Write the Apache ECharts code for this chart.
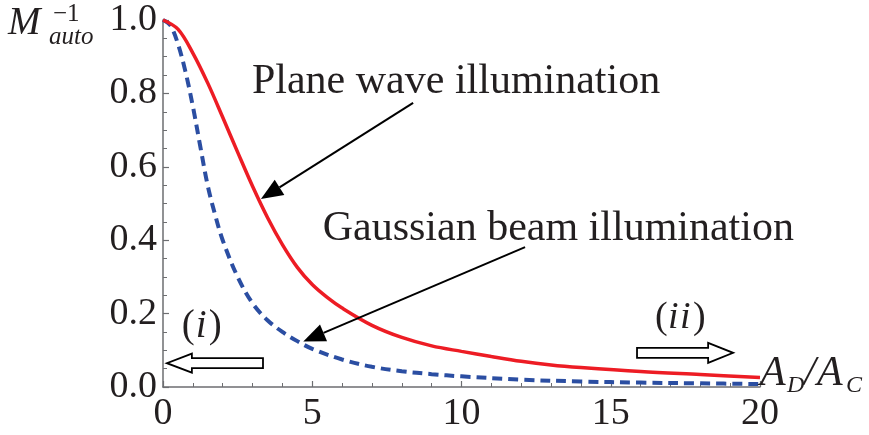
<!DOCTYPE html>
<html>
<head>
<meta charset="utf-8">
<script src="https://cdn.jsdelivr.net/npm/echarts@6/dist/echarts.min.js"></script>
<style>
html,body{margin:0;padding:0;background:#fff;}
#c{width:869px;height:435px;}
</style>
</head>
<body>
<div id="c"></div>
<script>
// ---- data ----
var xTicks = [0, 5, 10, 15, 20];
var yTicks = [0.0, 0.2, 0.4, 0.6, 0.8, 1.0];
var planeX = [0, 0.5, 1, 1.5, 2, 2.5, 3, 3.5, 4, 4.5, 5, 5.5, 6, 7, 8, 9, 10, 11, 12, 13, 14, 16, 18, 20];
var planeY = [1.0, 0.975, 0.91, 0.828, 0.735, 0.64, 0.547, 0.462, 0.388, 0.326, 0.279, 0.244, 0.215, 0.168, 0.135, 0.112, 0.097, 0.083, 0.070, 0.060, 0.053, 0.042, 0.034, 0.026];
var gaussX = [0, 0.25, 0.5, 0.75, 1, 1.25, 1.5, 1.75, 2, 2.5, 3, 3.5, 4, 4.5, 5, 6, 7, 8, 9, 10, 12, 14, 16, 18, 20];
var gaussY = [1.0, 0.985, 0.935, 0.86, 0.765, 0.655, 0.548, 0.468, 0.40, 0.300, 0.228, 0.182, 0.150, 0.125, 0.104, 0.075, 0.055, 0.043, 0.035, 0.029, 0.020, 0.015, 0.012, 0.010, 0.008];
var planeLabel = "Plane wave illumination";
var gaussLabel = "Gaussian beam illumination";

function pairs(xs, ys){ return xs.map(function(x,i){ return [x, ys[i]]; }); }

var FONT = '"Liberation Serif","DejaVu Serif",serif';
var TXT = '#231f20';
var AX = '#6d6e71';

var chart = echarts.init(document.getElementById('c'), null, {renderer:'canvas'});
chart.setOption({
  animation:false,
  backgroundColor:'#fff',
  grid:{left:163, top:20, right:109, bottom:48, containLabel:false},
  xAxis:{
    type:'value', min:xTicks[0], max:xTicks[xTicks.length-1], interval:5,
    axisLine:{show:true, onZero:false, lineStyle:{color:AX, width:1.5}},
    axisTick:{show:true, inside:true, length:6, lineStyle:{color:AX, width:1.2}},
    minorTick:{show:true, splitNumber:5, length:4, lineStyle:{color:AX, width:1}},
    splitLine:{show:false},
    axisLabel:{fontFamily:FONT, fontSize:38, color:TXT, margin:8}
  },
  yAxis:{
    type:'value', min:yTicks[0], max:yTicks[yTicks.length-1], interval:0.2,
    axisLine:{show:true, lineStyle:{color:AX, width:1.5}},
    axisTick:{show:true, inside:true, length:6, lineStyle:{color:AX, width:1.2}},
    minorTick:{show:true, splitNumber:4, length:4, lineStyle:{color:AX, width:1}},
    splitLine:{show:false},
    axisLabel:{fontFamily:FONT, fontSize:38, color:TXT, margin:6, formatter:function(v){return v.toFixed(1);}}
  },
  series:[
    {type:'line', name:'plane', data:pairs(planeX, planeY), smooth:0.35, showSymbol:false, clip:false,
     lineStyle:{color:'#ed1c24', width:3.5}, z:3},
    {type:'line', name:'gauss', data:pairs(gaussX, gaussY), smooth:0.35, showSymbol:false, clip:false,
     lineStyle:{color:'#2b4ea2', width:4, type:[10,6]}, z:2}
  ]
});

function P(x,y){ return chart.convertToPixel({gridIndex:0}, [x,y]); }

function arrowLine(a, b, col, headLen, headW){
  var dx=b[0]-a[0], dy=b[1]-a[1], L=Math.sqrt(dx*dx+dy*dy), ux=dx/L, uy=dy/L;
  var bx=b[0]-ux*headLen, by=b[1]-uy*headLen;
  return [
    {type:'line', shape:{x1:a[0], y1:a[1], x2:bx, y2:by}, style:{stroke:col, lineWidth:2}, z:10},
    {type:'polygon', shape:{points:[[b[0],b[1]],[bx-uy*headW, by+ux*headW],[bx+uy*headW, by-ux*headW]]}, style:{fill:'#000'}, z:10}
  ];
}
function hollowArrow(tail, tip, headLen, headHalf, bodyHalf){
  var dir = tip[0] > tail[0] ? 1 : -1;
  var y = tip[1];
  var hb = tip[0] - dir*headLen;
  return {type:'polygon', shape:{points:[
      [tail[0], y-bodyHalf],[hb, y-bodyHalf],[hb, y-headHalf],[tip[0], y],
      [hb, y+headHalf],[hb, y+bodyHalf],[tail[0], y+bodyHalf]]},
    style:{fill:'#fff', stroke:'#000', lineWidth:1.8}, z:10};
}
function txt(x, y, s, font){
  return {type:'text', x:x, y:y, style:{text:s, font:font, fill:TXT, align:'left', verticalAlign:'middle'}, z:11};
}

var g = [];
g = g.concat(arrowLine(P(8.38,0.774), P(3.28,0.512), '#000', 22, 9));
g = g.concat(arrowLine(P(12.13,0.381), P(4.7,0.124), '#000', 22, 9));
g.push(hollowArrow(P(3.35,0.065), P(0.13,0.065), 25, 9.5, 5));
g.push(hollowArrow(P(15.88,0.093), P(19.1,0.093), 25, 10, 5));

var ptPlane = P(2.98, 0.831);
g.push(txt(ptPlane[0], ptPlane[1], planeLabel, '42px '+FONT));
var ptGauss = P(5.35, 0.43);
g.push(txt(ptGauss[0], ptGauss[1], gaussLabel, '42px '+FONT));

var pi = P(0.63, 0.163);
g.push(txt(pi[0], pi[1], '(', '39px '+FONT));
g.push(txt(pi[0]+14, pi[1], 'i', 'italic 39px '+FONT));
g.push(txt(pi[0]+27, pi[1], ')', '39px '+FONT));
var pii = P(16.48, 0.188);
g.push(txt(pii[0], pii[1], '(', '38px '+FONT));
g.push(txt(pii[0]+13, pii[1], 'i', 'italic 38px '+FONT));
g.push(txt(pii[0]+25, pii[1], 'i', 'italic 38px '+FONT));
g.push(txt(pii[0]+38, pii[1], ')', '38px '+FONT));

// y-axis title  M^{-1}_{auto}
g.push(txt(8, 24, 'M', 'italic 39px '+FONT));
g.push(txt(53, 14, '\u22121', '25px '+FONT));
g.push(txt(49, 37, 'auto', 'italic 25px '+FONT));

// x-axis title A_D/A_C
g.push(txt(760, 374, 'A', 'italic 42px '+FONT));
g.push(txt(787, 386, 'D', 'italic 24px '+FONT));
g.push(txt(804, 374, '/', 'italic 42px '+FONT));
g.push(txt(817, 374, 'A', 'italic 42px '+FONT));
g.push(txt(846, 386, 'C', 'italic 24px '+FONT));

chart.setOption({graphic:g});
</script>
</body>
</html>
